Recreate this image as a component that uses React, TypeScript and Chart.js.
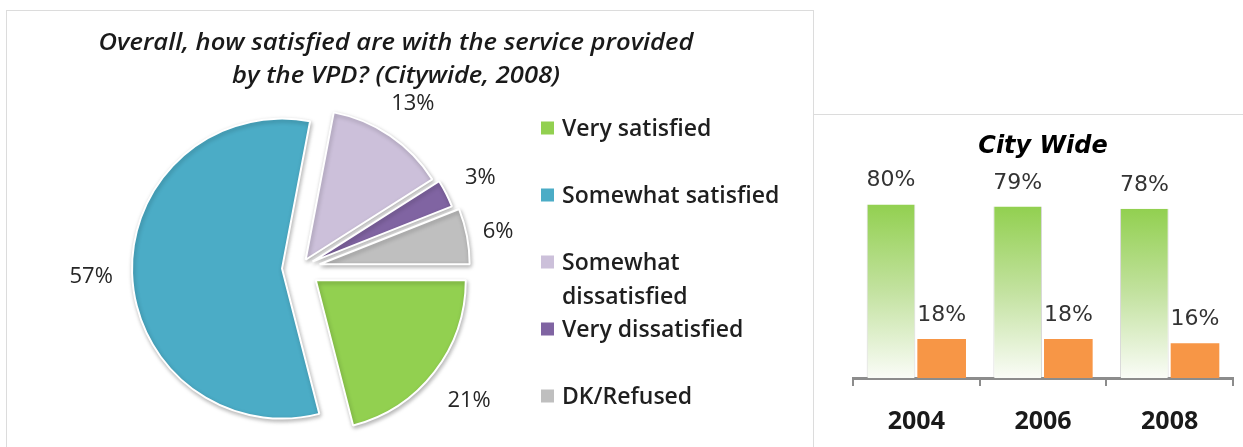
import React, { useEffect, useRef } from 'react';
import { Chart, registerables } from 'chart.js';

Chart.register(...registerables);

// ---------- data ----------
const pieTitleLines = ['Overall, how satisfied are with the service provided', 'by the VPD? (Citywide, 2008)'];
const pieLabels = ['Very satisfied', 'Somewhat satisfied', 'Somewhat dissatisfied', 'Very dissatisfied', 'DK/Refused'];
const pieValues = [21, 57, 13, 3, 6];
const pieColors = ['#92D050', '#4BACC6', '#CCC0DA', '#8064A2', '#BFBFBF'];

const barTitle = 'City Wide';
const years = ['2004', '2006', '2008'];
const satisfiedValues = [80, 79, 78];
const dissatisfiedValues = [18, 18, 16];

// ---------- style constants ----------
const sliceExplode = [20, 18, 10, 14, 20];
const labelGap = [22, 19, 22, 21, 15];
const titleTargetWidth = 595;

const pieDecor = {
  id: 'pieDecor',
  afterDatasetsUpdate(chart: any) {
    const meta = chart.getDatasetMeta(0);
    meta.data.forEach((arc: any, i: number) => {
      const mid = (arc.startAngle + arc.endAngle) / 2;
      arc.x += Math.cos(mid) * sliceExplode[i];
      arc.y += Math.sin(mid) * sliceExplode[i];
    });
  },
  beforeDatasetsDraw(chart: any) {
    const ctx = chart.ctx;
    ctx.save();
    ctx.shadowColor = 'rgba(0,0,0,0.28)';
    ctx.shadowBlur = 4;
    ctx.shadowOffsetX = 1;
    ctx.shadowOffsetY = 2;
  },
  afterDatasetsDraw(chart: any) {
    chart.ctx.restore();
  },
  afterDraw(chart: any) {
    const ctx = chart.ctx;
    const meta = chart.getDatasetMeta(0);
    ctx.save();
    // title (slightly widened to match the condensed-but-wide original face)
    ctx.font = 'italic 600 23px "Open Sans"';
    ctx.fillStyle = '#1a1a1a';
    ctx.textAlign = 'center';
    ctx.textBaseline = 'alphabetic';
    const sx = titleTargetWidth / ctx.measureText(pieTitleLines[0]).width;
    pieTitleLines.forEach((line, i) => {
      ctx.save();
      ctx.translate(396, 50 + i * 33);
      ctx.scale(sx, 1);
      ctx.fillText(line, 0, 0);
      ctx.restore();
    });

    // data labels
    ctx.font = '22px "Open Sans"';
    ctx.fillStyle = '#262626';
    meta.data.forEach((arc: any, i: number) => {
      const mid = (arc.startAngle + arc.endAngle) / 2;
      const c = Math.cos(mid);
      const s = Math.sin(mid);
      const text = `${pieValues[i]}%`;
      const w = ctx.measureText(text).width;
      const h = 16;
      const d = arc.outerRadius + labelGap[i] + Math.abs(c) * w / 2 + Math.abs(s) * h / 2;
      ctx.fillText(text, arc.x + c * d, arc.y + s * d + 8);
    });

    // legend
    ctx.font = '600 23px "Open Sans"';
    ctx.textAlign = 'left';
    const legendTop = 128;
    const legendStep = 67;
    const wrapWidth = 240;
    pieLabels.forEach((label, i) => {
      const y = legendTop + i * legendStep;
      ctx.fillStyle = pieColors[i];
      ctx.fillRect(541, y - 6.5, 13, 13);
      ctx.fillStyle = '#1f1f1f';
      const words = label.split(' ');
      const lines: string[] = [];
      let cur = '';
      words.forEach((wd) => {
        const test = cur ? `${cur} ${wd}` : wd;
        if (cur && ctx.measureText(test).width > wrapWidth) {
          lines.push(cur);
          cur = wd;
        } else {
          cur = test;
        }
      });
      if (cur) lines.push(cur);
      lines.forEach((ln, j) => ctx.fillText(ln, 562, y + 8 + j * 34));
    });
    ctx.restore();
  },
};

const barLabels = {
  id: 'barLabels',
  afterDatasetsDraw(chart: any) {
    const ctx = chart.ctx;
    ctx.save();
    ctx.font = '22px "DejaVu Sans"';
    ctx.fillStyle = '#333333';
    ctx.textAlign = 'center';
    ctx.textBaseline = 'alphabetic';
    chart.data.datasets.forEach((ds: any, di: number) => {
      chart.getDatasetMeta(di).data.forEach((bar: any, i: number) => {
        ctx.fillText(`${ds.data[i]}%`, bar.x, bar.y - 18);
      });
    });
    ctx.restore();
  },
};

function PieChart() {
  const ref = useRef<HTMLCanvasElement>(null);
  useEffect(() => {
    const chart = new Chart(ref.current as HTMLCanvasElement, {
      type: 'pie',
      data: {
        labels: pieLabels,
        datasets: [
          {
            data: pieValues,
            backgroundColor: pieColors,
            borderColor: '#ffffff',
            borderWidth: 2,
          },
        ],
      },
      options: {
        responsive: false,
        animation: false,
        rotation: 90,
        radius: 150,
        layout: { padding: { left: 150, right: 363, top: 118, bottom: 29 } },
        plugins: {
          legend: { display: false },
          title: { display: false },
          tooltip: { enabled: false },
        },
      } as any,
      plugins: [pieDecor],
    });
    return () => chart.destroy();
  }, []);
  return (
    <canvas
      ref={ref}
      width={813}
      height={447}
      style={{ position: 'absolute', left: 0, top: 0, width: 813, height: 447 }}
    />
  );
}

function BarChart() {
  const ref = useRef<HTMLCanvasElement>(null);
  useEffect(() => {
    const chart = new Chart(ref.current as HTMLCanvasElement, {
      type: 'bar',
      data: {
        labels: years,
        datasets: [
          {
            label: 'Satisfied',
            data: satisfiedValues,
            backgroundColor: (c: any) => {
              const ch = c.chart;
              const area = ch.chartArea;
              if (!area || c.raw == null || !ch.scales.y) return '#92D050';
              const top = ch.scales.y.getPixelForValue(c.raw);
              const g = ch.ctx.createLinearGradient(0, top, 0, area.bottom);
              g.addColorStop(0, '#92D050');
              g.addColorStop(0.5, '#C3E2A0');
              g.addColorStop(1, '#FAFCF7');
              return g;
            },
            borderColor: 'rgba(170,170,170,0.45)',
            borderWidth: { left: 1, right: 1, top: 0, bottom: 0 },
            categoryPercentage: 0.8,
            barPercentage: 0.96,
          },
          {
            label: 'Dissatisfied',
            data: dissatisfiedValues,
            backgroundColor: '#F79646',
            categoryPercentage: 0.8,
            barPercentage: 0.96,
          },
        ],
      },
      options: {
        responsive: false,
        animation: false,
        layout: { padding: { left: 39, right: 10, top: 0, bottom: 7 } },
        plugins: {
          legend: { display: false },
          tooltip: { enabled: false },
          title: {
            display: true,
            text: barTitle,
            fullSize: false,
            color: '#000000',
            font: { family: '"DejaVu Sans"', size: 24, weight: 'bold', style: 'italic', lineHeight: 1 },
            padding: { top: 20, bottom: 2 },
          },
        },
        scales: {
          y: { display: false, min: 0, max: 100 },
          x: {
            grid: {
              offset: true,
              drawOnChartArea: false,
              drawTicks: true,
              tickLength: 8,
              color: '#8c8c8c',
              lineWidth: 2,
            },
            border: { display: true, color: '#8c8c8c', width: 3 },
            ticks: {
              color: '#1a1a1a',
              padding: 21,
              font: { family: '"Open Sans"', size: 25, weight: 'bold' },
            },
          },
        },
      } as any,
      plugins: [barLabels],
    });
    return () => chart.destroy();
  }, []);
  return (
    <canvas
      ref={ref}
      width={429}
      height={350}
      style={{ position: 'absolute', left: 814, top: 115, width: 429, height: 350 }}
    />
  );
}

export default function App() {
  return (
    <div
      style={{
        position: 'fixed',
        left: 0,
        top: 0,
        width: 1243,
        height: 447,
        overflow: 'hidden',
        background: '#ffffff',
      }}
    >
      <div
        style={{
          position: 'absolute',
          left: 6,
          top: 10,
          width: 806,
          height: 460,
          border: '1px solid #dcdcdc',
        }}
      />
      <div
        style={{
          position: 'absolute',
          left: 813,
          top: 114,
          width: 440,
          height: 400,
          borderTop: '1px solid #dcdcdc',
          borderLeft: '1px solid #dcdcdc',
        }}
      />
      <PieChart />
      <BarChart />
    </div>
  );
}
